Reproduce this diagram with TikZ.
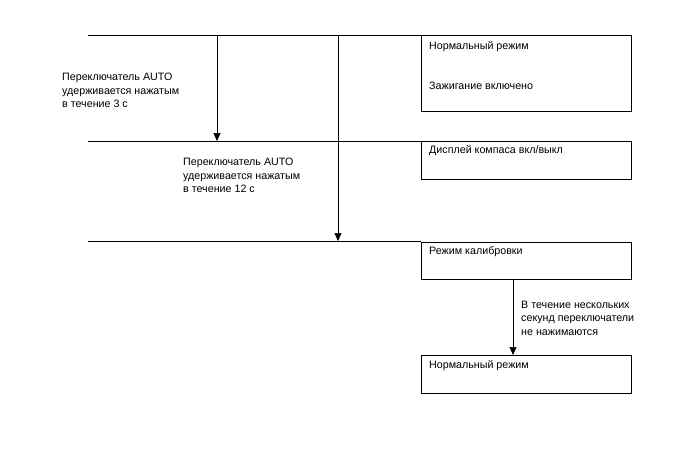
\documentclass[tikz,border=0pt]{standalone}
\usepackage{fontspec}
\setmainfont{Liberation Sans}
\usetikzlibrary{arrows.meta}
\begin{document}
\begin{tikzpicture}[x=1pt,y=-1pt,
  every node/.style={font=\fontsize{10.7}{13.5}\selectfont},
  box/.style={draw,line width=1pt,minimum width=210,anchor=north west,inner sep=0},
  lbl/.style={anchor=west,inner sep=0,align=left},
  arr/.style={-{Triangle[length=8pt,width=7pt]},line width=0.7pt},
  hline/.style={line width=0.6pt}]
\useasboundingbox (0,0) rectangle (688,463);
% boxes
\node[box,minimum height=76] (b1) at (421,35) {};
\node[box,minimum height=38] (b2) at (421,141) {};
\node[box,minimum height=37] (b3) at (421,242) {};
\node[box,minimum height=38] (b4) at (421,355) {};
% box texts
\node[lbl] (t1) at (429,47) {Нормальный режим};
\node[lbl] (t1b) at (429,86) {Зажигание включено};
\node[lbl] (t2) at (429,151) {Дисплей компаса вкл/выкл};
\node[lbl] (t3) at (429,252) {Режим калибровки};
\node[lbl] (t4) at (429,366) {Нормальный режим};
% horizontal lines
\coordinate (h1) at (88,35);
\coordinate (h2) at (88,141);
\coordinate (h3) at (88,241);
\draw[hline] (h1) -- (b1.north west);
\draw[hline] (h2) -- (b2.north west);
\draw[hline] (h3) -- (b3.west |- h3);
% vertical arrows
\coordinate (a1s) at (217,35);
\coordinate (a1e) at (217,141);
\coordinate (a2s) at (338,35);
\coordinate (a2e) at (338,241);
\draw[arr] (a1s) -- (a1e);
\draw[arr] (a2s) -- (a2e);
\draw[arr] (b3.south -| 513,0) -- (b4.north -| 513,0);
% labels
\node[lbl] (l1) at (62,90.5) {Переключатель AUTO\\удерживается нажатым\\в течение 3 с};
\node[lbl] (l2) at (183,175.5) {Переключатель AUTO\\удерживается нажатым\\в течение 12 с};
\node[lbl] (l3) at (521,318) {В течение нескольких\\секунд переключатели\\не нажимаются};
\end{tikzpicture}
\end{document}
